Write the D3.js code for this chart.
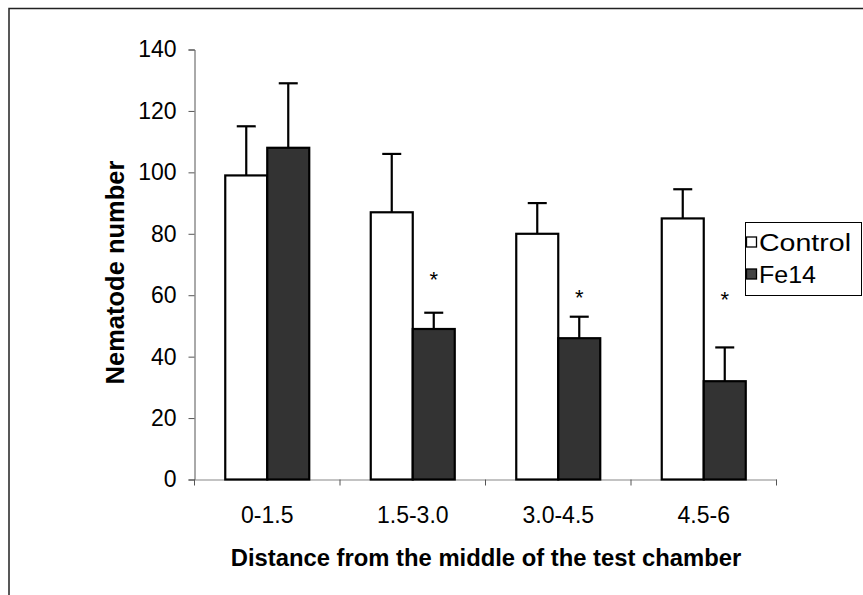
<!DOCTYPE html>
<html><head><meta charset="utf-8">
<script src="https://cdn.jsdelivr.net/npm/d3@7"></script>
<style>body{margin:0;background:#fff}svg{display:block;font-family:"Liberation Sans",Arial,sans-serif}</style>
</head><body><svg id="c" width="863" height="595"></svg>
<script>
const categories = ["0-1.5", "1.5-3.0", "3.0-4.5", "4.5-6"];
const seriesNames = ["Control", "Fe14"];
const controlValues = [99, 87, 80, 85];
const controlErrors = [16, 19, 10, 9.5];
const fe14Values = [108, 49, 46, 32];
const fe14Errors = [21, 5.3, 7, 11];
const significanceMarks = ["", "*", "*", "*"];
const markLevels = [null, 66.5, 60.7, 60];
const yTicks = [0, 20, 40, 60, 80, 100, 120, 140];
const colors = ["#ffffff", "#333333"];

(function () {
const FONT = "Liberation Sans, Arial, sans-serif";
const svg = d3.select("#c");
// outer frame
svg.append("rect").attr("x", 9).attr("y", 8.5).attr("width", 900).attr("height", 700)
  .attr("fill", "none").attr("stroke", "#222").attr("stroke-width", 1.5);

const pLeft = 194.5, pRight = 776.5, pTop = 49.5, pBottom = 479.5;
const x = d3.scaleBand().domain(categories).range([pLeft, pRight]).paddingInner(0).paddingOuter(0);
const y = d3.scaleLinear().domain([0, 140]).range([pBottom, pTop]);

// y axis
const yAxis = svg.append("g").attr("transform", `translate(${pLeft},0)`)
  .call(d3.axisLeft(y).tickValues(yTicks).tickSize(6).tickPadding(12));
yAxis.select(".domain").attr("stroke", "#555");
yAxis.selectAll(".tick line").attr("stroke", "#555");
yAxis.selectAll("text").attr("font-size", 23).attr("fill", "#000").attr("font-family", FONT);

// x axis
const xAxis = svg.append("g").attr("transform", `translate(0,${pBottom})`)
  .call(d3.axisBottom(x).tickSize(0).tickPadding(27));
xAxis.select(".domain").attr("stroke", "#888").attr("stroke-width", 1.2);
xAxis.selectAll("text").attr("font-size", 23).attr("fill", "#000").attr("font-family", FONT);
// boundary ticks
const bounds = categories.map(c => x(c)).concat([x(categories[categories.length-1]) + x.bandwidth()]);
svg.append("g").selectAll("line").data(bounds).join("line")
  .attr("x1", d => d).attr("x2", d => d).attr("y1", pBottom).attr("y2", pBottom + 6)
  .attr("stroke", "#555");

const barW = 42;
const series = [
  {vals: controlValues, errs: controlErrors, off: -barW},
  {vals: fe14Values, errs: fe14Errors, off: 0}
];
series.forEach((s, si) => {
  const g = svg.append("g");
  categories.forEach((c, i) => {
    const cx = x(c) + x.bandwidth() / 2 + s.off;
    const mid = cx + barW / 2;
    const topY = y(s.vals[i] + s.errs[i]);
    g.append("line").attr("x1", mid).attr("x2", mid).attr("y1", y(s.vals[i])).attr("y2", topY)
      .attr("stroke", "#000").attr("stroke-width", 2.2);
    g.append("line").attr("x1", mid - 9.5).attr("x2", mid + 9.5).attr("y1", topY).attr("y2", topY)
      .attr("stroke", "#000").attr("stroke-width", 2.2);
    g.append("rect").attr("x", cx).attr("y", y(s.vals[i])).attr("width", barW)
      .attr("height", pBottom - y(s.vals[i])).attr("fill", colors[si])
      .attr("stroke", "#000").attr("stroke-width", 2.2);
  });
});

// significance asterisks
categories.forEach((c, i) => {
  if (!significanceMarks[i]) return;
  const mid = x(c) + x.bandwidth() / 2 + barW / 2;
  svg.append("text").attr("x", mid).attr("y", y(markLevels[i]) + 12)
    .attr("text-anchor", "middle").attr("font-size", 22).text(significanceMarks[i]);
});

// axis titles
svg.append("text").attr("transform", "translate(124,272.5) rotate(-90)")
  .attr("text-anchor", "middle").attr("font-size", 25.5).attr("font-weight", "bold")
  .text("Nematode number");
svg.append("text").attr("x", 486).attr("y", 566)
  .attr("text-anchor", "middle").attr("font-size", 23.8).attr("font-weight", "bold")
  .text("Distance from the middle of the test chamber");

// legend
const lg = svg.append("g");
lg.append("rect").attr("x", 745.5).attr("y", 222.5).attr("width", 116).attr("height", 73)
  .attr("fill", "#fff").attr("stroke", "#000").attr("stroke-width", 1);
const legendLens = [92, 57];
seriesNames.forEach((n, i) => {
  const yy = 242 + i * 32;
  lg.append("rect").attr("x", 746.5).attr("y", yy - 5).attr("width", 10).attr("height", 10)
    .attr("fill", colors[i] === "#333333" ? "#444" : colors[i]).attr("stroke", "#000").attr("stroke-width", 1.3);
  lg.append("text").attr("x", 759).attr("y", yy + 8.5)
    .attr("font-size", 23).attr("textLength", legendLens[i]).attr("lengthAdjust", "spacingAndGlyphs")
    .text(n);
});
})();
</script></body></html>
